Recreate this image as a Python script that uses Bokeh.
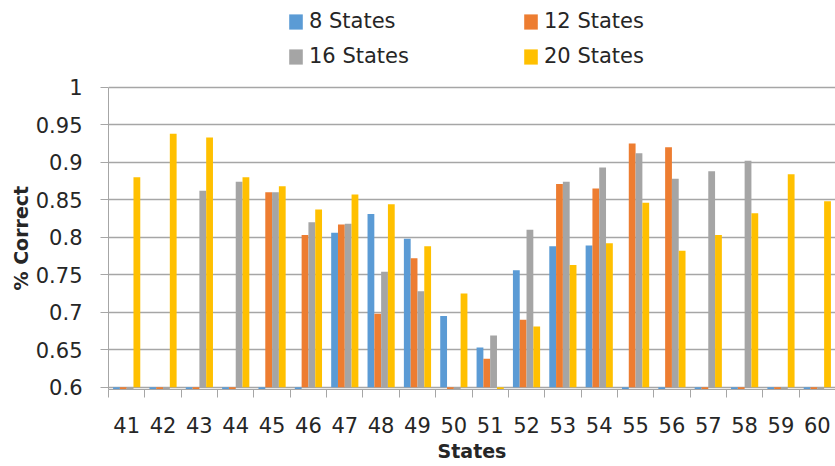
from bokeh.plotting import figure
from bokeh.models import (ColumnDataSource, FixedTicker, NumeralTickFormatter,
                          Range1d, Legend, LegendItem, Title)
from bokeh.transform import dodge
from bokeh.embed import file_html
from bokeh.resources import INLINE

# Number of states along the x axis
states = [41, 42, 43, 44, 45, 46, 47, 48, 49, 50,
          51, 52, 53, 54, 55, 56, 57, 58, 59, 60]

# Fraction correct per model size (0 = no result)
s8 = [0, 0, 0, 0, 0, 0, 0.806, 0.831, 0.798, 0.695,
      0.653, 0.756, 0.788, 0.789, 0, 0, 0, 0, 0, 0]
s12 = [0, 0, 0, 0, 0.860, 0.803, 0.817, 0.698, 0.772, 0,
       0.638, 0.690, 0.871, 0.865, 0.925, 0.920, 0, 0, 0, 0]
s16 = [0, 0, 0.862, 0.874, 0.860, 0.820, 0.818, 0.754, 0.728, 0,
       0.669, 0.810, 0.874, 0.893, 0.912, 0.878, 0.888, 0.902, 0, 0]
s20 = [0.880, 0.938, 0.933, 0.880, 0.868, 0.837, 0.857, 0.844, 0.788, 0.725,
       0, 0.681, 0.763, 0.792, 0.846, 0.782, 0.803, 0.832, 0.884, 0.848]

series_names = ["8 States", "12 States", "16 States", "20 States"]
series_keys = ["s8", "s12", "s16", "s20"]
colors = ["#5B9BD5", "#ED7D31", "#A5A5A5", "#FFC000"]
y_ticks = [0.6, 0.65, 0.7, 0.75, 0.8, 0.85, 0.9, 0.95, 1.0]

FONT = "DejaVu Sans"
FS = "21px"
TITLE_FS = "19px"
TEXT = "#262626"
AXIS = "#A6A6A6"

src = ColumnDataSource(dict(x=states, s8=s8, s12=s12, s16=s16, s20=s20))

# The frame reaches the top of the canvas so the legend can sit above the bars;
# the y axis itself is bounded to the data span.
y_lo, y_hi = 0.597, 1.1157
p = figure(width=835, height=466, output_backend="svg", toolbar_location=None,
           x_range=Range1d(states[0] - 0.5, states[-1] + 0.5),
           y_range=Range1d(y_lo, y_hi),
           min_border_left=108, min_border_right=0,
           min_border_top=0, min_border_bottom=77)
p.outline_line_color = None
p.background_fill_color = "white"
p.border_fill_color = "white"

bar_w = 0.187
offsets = [-1.5 * bar_w, -0.5 * bar_w, 0.5 * bar_w, 1.5 * bar_w]
renderers = []
for key, off, col in zip(series_keys, offsets, colors):
    r = p.vbar(x=dodge("x", off), top=key, bottom=y_ticks[0], width=bar_w,
               source=src, fill_color=col, line_color=None)
    renderers.append(r)

# Grid
p.xgrid.grid_line_color = None
p.ygrid.grid_line_color = AXIS
p.ygrid.grid_line_width = 1.3
p.ygrid.ticker = FixedTicker(ticks=y_ticks)

# Y axis
p.yaxis.bounds = (y_lo, y_ticks[-1])
p.yaxis.ticker = FixedTicker(ticks=y_ticks)
p.yaxis.formatter = NumeralTickFormatter(format="0.[00]")
p.yaxis.axis_line_color = AXIS
p.yaxis.major_tick_line_color = AXIS
p.yaxis.major_tick_out = 8
p.yaxis.major_tick_in = 0
p.yaxis.minor_tick_line_color = None
p.yaxis.major_label_standoff = 18
p.yaxis.major_label_text_font = FONT
p.yaxis.major_label_text_font_size = FS
p.yaxis.major_label_text_color = TEXT

# Y axis title, centred on the 0.6 - 1 span rather than the full frame
p.add_layout(Title(text="% Correct", align="left", offset=99, standoff=2,
                   text_font=FONT, text_font_size=TITLE_FS,
                   text_font_style="bold", text_color=TEXT), "left")

# X axis: labels at each state, tick marks between groups
bounds = [s - 0.5 for s in states] + [states[-1] + 0.5]
p.xaxis.ticker = FixedTicker(ticks=states, minor_ticks=bounds)
p.xaxis.axis_line_color = AXIS
p.xaxis.major_tick_line_color = None
p.xaxis.minor_tick_line_color = AXIS
p.xaxis.minor_tick_out = 8
p.xaxis.minor_tick_in = 0
p.xaxis.major_label_standoff = 19
p.xaxis.major_label_text_font = FONT
p.xaxis.major_label_text_font_size = FS
p.xaxis.major_label_text_color = TEXT
p.xaxis.axis_label = "States"
p.xaxis.axis_label_text_font = FONT
p.xaxis.axis_label_text_font_size = TITLE_FS
p.xaxis.axis_label_text_font_style = "bold"
p.xaxis.axis_label_text_color = TEXT
p.xaxis.axis_label_standoff = 4

# Legend: two rows of two entries above the bars
legend_pos = [(179, 356), (414, 356), (179, 321), (414, 321)]
for name, r, loc in zip(series_names, renderers, legend_pos):
    lg = Legend(items=[LegendItem(label=name, renderers=[r])], location=loc,
                padding=0, margin=0, border_line_color=None,
                background_fill_alpha=0, glyph_width=17, glyph_height=19,
                label_standoff=5, label_height=19,
                label_text_font=FONT, label_text_font_size=FS,
                label_text_color=TEXT)
    p.add_layout(lg, "center")

open("out.html", "w").write(file_html(p, INLINE))
